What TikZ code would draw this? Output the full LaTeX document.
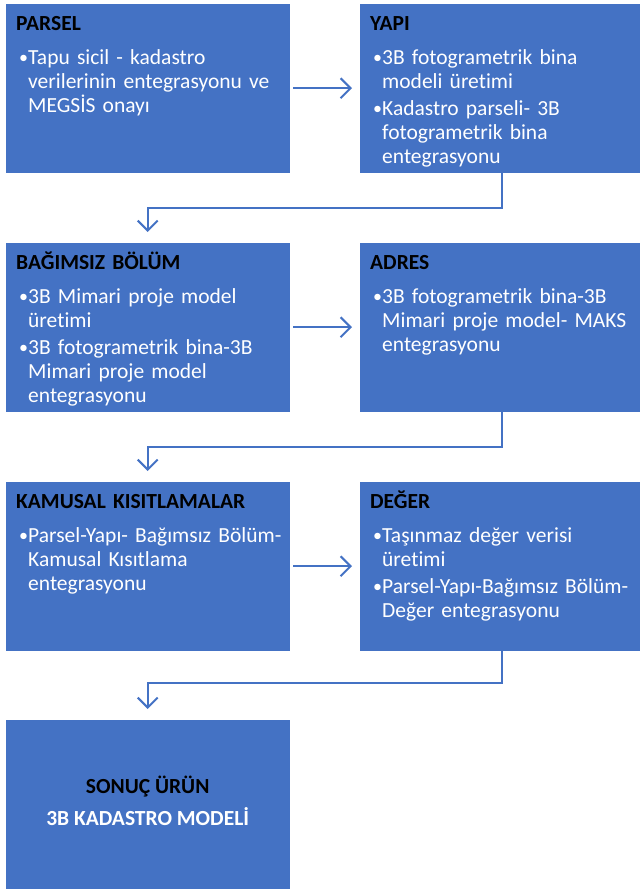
\documentclass[tikz,border=0pt]{standalone}
\usepackage{fontspec}
\setmainfont{Carlito}[Ligatures=NoCommon]
\usetikzlibrary{arrows.meta}
\definecolor{kutumavi}{HTML}{4472C4}
\newcommand{\baslik}[1]{\noindent\strut{\bfseries\color{black}#1}\par\vspace{7pt}}
\newcommand{\madde}[1]{\par\vspace{3pt}\hangindent=12pt\hangafter=1\noindent\makebox[12pt][l]{\hspace{3pt}\raisebox{1pt}{\fontsize{18}{18}\selectfont•}}#1\par}

\begin{document}
\begin{tikzpicture}[x=1pt,y=-1pt,
    kutu/.style={fill=kutumavi, draw=white, line width=0.4pt, minimum height=170pt, anchor=north west, inner sep=0pt},
    yazi/.style={anchor=north west, inner sep=0pt, text width=272pt, text=white, font=\fontsize{21.5}{24}\selectfont, execute at begin node=\raggedright},
    ok/.style={draw=kutumavi, line width=2pt, -{Straight Barb[length=10pt,width=20pt]}}]
			%%%%% START %%%%%
			\useasboundingbox (0,0) rectangle (640,892);
			
			\node[kutu, minimum width=285pt] (parsel) at (5,3) {};
			\node[kutu, minimum width=281pt] (yapi) at (359,3) {};
			\node[kutu, minimum width=285pt] (bagimsiz) at (5,242) {};
			\node[kutu, minimum width=281pt] (adres) at (359,242) {};
			\node[kutu, minimum width=285pt] (kamusal) at (5,481) {};
			\node[kutu, minimum width=281pt] (deger) at (359,481) {};
			\node[kutu, minimum width=285pt] (sonuc) at (5,719) {};
			
			\node[yazi] (parselyazi) at ([xshift=11pt,yshift=-10pt]parsel.north west) {\baslik{PARSEL}
				\madde{Tapu sicil - kadastro\newline verilerinin entegrasyonu ve\newline MEGSİS onayı}};
			\node[yazi] (yapiyazi) at ([xshift=11pt,yshift=-10pt]yapi.north west) {\baslik{YAPI}
				\madde{3B fotogrametrik bina\newline modeli üretimi}
				\madde{Kadastro parseli- 3B\newline fotogrametrik bina\newline entegrasyonu}};
			\node[yazi] (bagimsizyazi) at ([xshift=11pt,yshift=-10pt]bagimsiz.north west) {\baslik{BAĞIMSIZ BÖLÜM}
				\madde{3B Mimari proje model\newline üretimi}
				\madde{3B fotogrametrik bina-3B\newline Mimari proje model\newline entegrasyonu}};
			\node[yazi] (adresyazi) at ([xshift=11pt,yshift=-10pt]adres.north west) {\baslik{ADRES}
				\madde{3B fotogrametrik bina-3B\newline Mimari proje model- MAKS\newline entegrasyonu}};
			\node[yazi] (kamusalyazi) at ([xshift=11pt,yshift=-10pt]kamusal.north west) {\baslik{KAMUSAL KISITLAMALAR}
				\madde{Parsel-Yapı- Bağımsız Bölüm-\newline Kamusal Kısıtlama\newline entegrasyonu}};
			\node[yazi] (degeryazi) at ([xshift=11pt,yshift=-10pt]deger.north west) {\baslik{DEĞER}
				\madde{Taşınmaz değer verisi\newline üretimi}
				\madde{Parsel-Yapı-Bağımsız Bölüm-\newline Değer entegrasyonu}};
			\node[align=center, text=white, font=\fontsize{21.5}{24}\selectfont\bfseries] (sonucyazi) at ([yshift=3pt]sonuc.center) {{\color{black}SONUÇ ÜRÜN}\\[8pt]3B KADASTRO MODELİ};
			
			\draw[ok] ([xshift=3pt]parsel.east) -- ([xshift=-7pt]yapi.west);
			\draw[ok] ([xshift=3pt]bagimsiz.east) -- ([xshift=-7pt]adres.west);
			\draw[ok] ([xshift=3pt]kamusal.east) -- ([xshift=-7pt]deger.west);
			
			\draw[ok] ([xshift=2pt]yapi.south) -- ++(0,35) -| ([yshift=10pt]bagimsiz.north);
			\draw[ok] ([xshift=2pt]adres.south) -- ++(0,35) -| ([yshift=10pt]kamusal.north);
			\draw[ok] ([xshift=2pt]deger.south) -- ++(0,32) -| ([yshift=10pt]sonuc.north);
			
			%%%%% END %%%%%
\end{tikzpicture}
\end{document}
